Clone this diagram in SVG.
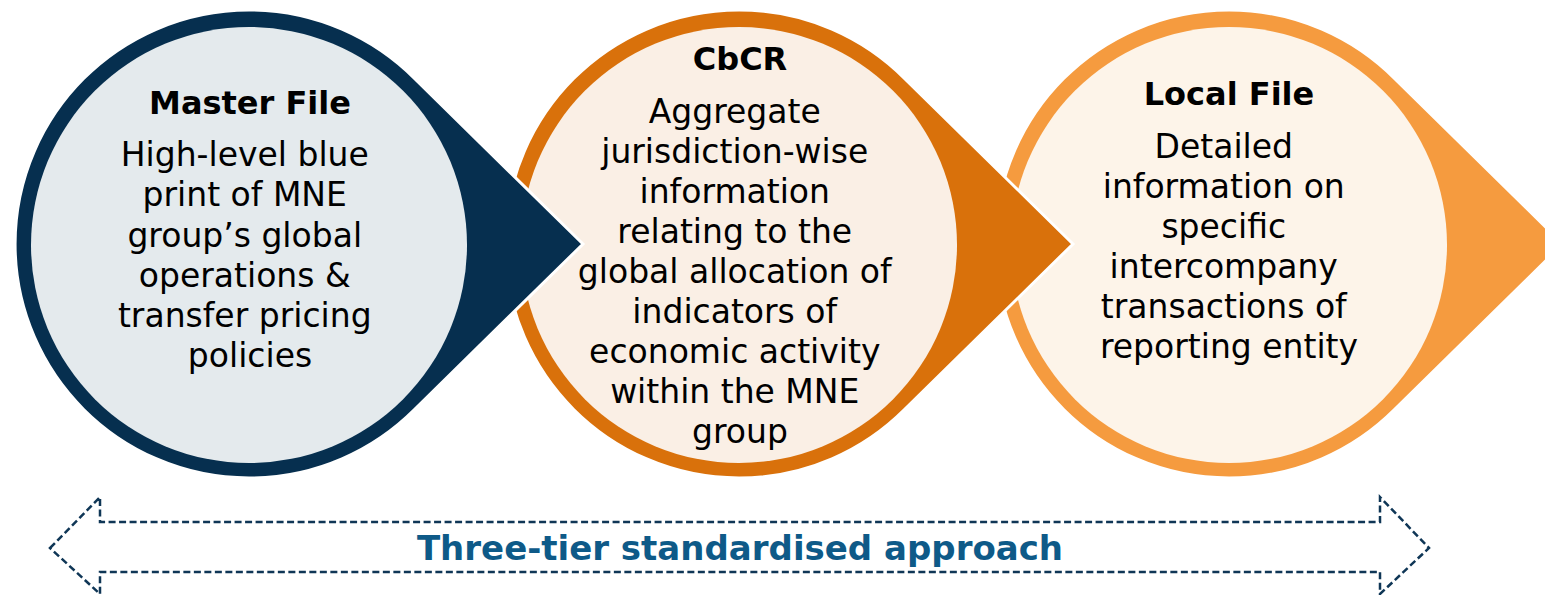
<svg xmlns="http://www.w3.org/2000/svg" width="1545" height="595" viewBox="0 0 1545 595">
  <style>
    .drop { stroke: #ffffff; stroke-width: 3; stroke-linejoin: miter; }
    .title { font-family: "DejaVu Sans", "Liberation Sans", sans-serif; font-weight: bold; font-size: 32px; fill: #000000; text-anchor: middle; }
    .body { font-family: "DejaVu Sans", "Liberation Sans", sans-serif; font-size: 33px; fill: #000000; text-anchor: middle; }
    .band { fill: none; stroke: #0f3656; stroke-width: 2.5; stroke-dasharray: 7 3.5; }
    .band-label { font-family: "DejaVu Sans", "Liberation Sans", sans-serif; font-weight: bold; font-size: 34px; fill: #0e5a88; text-anchor: middle; }
  </style>
  <defs>
    <!-- teardrop: circle r=234 centred at (0,244) with a square point to the right -->
    <path id="drop" d="M334 244 L165.5 78.5 A234 234 0 1 0 165.5 409.5 Z"/>
  </defs>

  <rect width="1545" height="595" fill="#ffffff"/>

  <!-- drawn right to left so each point sits over the next circle -->
  <g id="local-file">
    <use href="#drop" x="1229" class="drop" fill="#f59b3f"/>
    <circle cx="1229" cy="245" r="218" fill="#fdf4e9"/>
    <text class="title" x="1229" y="105">Local File</text>
    <text class="body" x="1229">
      <tspan x="1229" y="158">Detailed</tspan>
      <tspan x="1229" y="198">information on</tspan>
      <tspan x="1229" y="238">specific</tspan>
      <tspan x="1229" y="278">intercompany</tspan>
      <tspan x="1229" y="318">transactions of</tspan>
      <tspan x="1229" y="358">reporting entity</tspan>
    </text>
  </g>

  <g id="cbcr">
    <use href="#drop" x="739" class="drop" fill="#d9710b"/>
    <circle cx="739" cy="245" r="218" fill="#faefe5"/>
    <text class="title" x="740" y="70">CbCR</text>
    <text class="body" x="740">
      <tspan x="740" y="123">Aggregate</tspan>
      <tspan x="740" y="163">jurisdiction-wise</tspan>
      <tspan x="740" y="203">information</tspan>
      <tspan x="740" y="243">relating to the</tspan>
      <tspan x="740" y="283">global allocation of</tspan>
      <tspan x="740" y="323">indicators of</tspan>
      <tspan x="740" y="363">economic activity</tspan>
      <tspan x="740" y="403">within the MNE</tspan>
      <tspan x="740" y="443">group</tspan>
    </text>
  </g>

  <g id="master-file">
    <use href="#drop" x="249" class="drop" fill="#062f4f"/>
    <circle cx="249" cy="245" r="218" fill="#e4eaed"/>
    <text class="title" x="250" y="114">Master File</text>
    <text class="body" x="250">
      <tspan x="250" y="166">High-level blue</tspan>
      <tspan x="250" y="206">print of MNE</tspan>
      <tspan x="250" y="247">group’s global</tspan>
      <tspan x="250" y="287">operations &amp;</tspan>
      <tspan x="250" y="327">transfer pricing</tspan>
      <tspan x="250" y="367">policies</tspan>
    </text>
  </g>

  <!-- dashed double-headed band under the three tiers -->
  <g id="tier-band">
    <path class="band" d="M50 548 L100 497 L100 522 L1380 522 L1380 497 L1429 548 L1380 594 L1380 572 L100 572 L100 594 Z"/>
    <text class="band-label" x="740" y="560">Three-tier standardised approach</text>
  </g>
</svg>
